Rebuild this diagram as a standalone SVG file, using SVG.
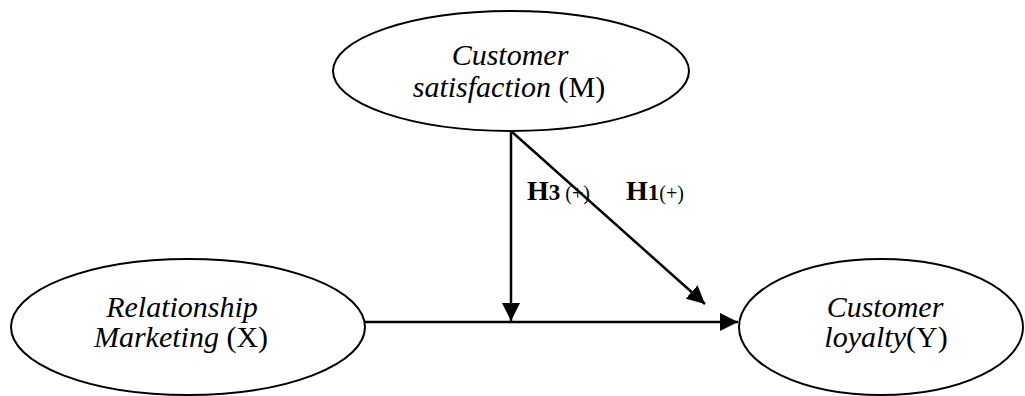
<svg xmlns="http://www.w3.org/2000/svg" width="1025" height="396" viewBox="0 0 1025 396">
<style>
.node{fill:#fff;stroke:#000;stroke-width:2}
.lbl{font-family:"Liberation Serif","Times New Roman",serif;font-size:30px;fill:#000;text-anchor:middle}
.it{font-style:italic}
.edge{stroke:#000;stroke-width:2.5;fill:none}
.h{font-family:"Liberation Serif","Times New Roman",serif;fill:#000;font-weight:bold}
</style>
<defs>
<marker id="ah" markerUnits="userSpaceOnUse" markerWidth="18" markerHeight="18" viewBox="0 0 16 16" refX="16" refY="8" orient="auto">
<path d="M0,0 L16,8 L0,16 Z" fill="#000"/>
</marker>
</defs>
<g id="connectors">
<line class="edge" x1="365" y1="322" x2="738" y2="322" marker-end="url(#ah)"/>
<line class="edge" x1="511" y1="131" x2="511" y2="321" marker-end="url(#ah)"/>
<line class="edge" x1="511" y1="131" x2="705" y2="304" marker-end="url(#ah)"/>
</g>
<g id="node-m">
<ellipse class="node" cx="511" cy="71" rx="178" ry="60"/>
<text class="lbl" x="510" y="65"><tspan class="it">Customer</tspan></text>
<text class="lbl" x="509" y="97"><tspan class="it">satisfaction</tspan> (M)</text>
</g>
<g id="node-x">
<ellipse class="node" cx="188" cy="327" rx="177" ry="68"/>
<text class="lbl" x="182" y="317"><tspan class="it">Relationship</tspan></text>
<text class="lbl" x="181" y="347"><tspan class="it">Marketing</tspan> (X)</text>
</g>
<g id="node-y">
<ellipse class="node" cx="881" cy="327" rx="142" ry="68"/>
<text class="lbl" x="885" y="317"><tspan class="it">Customer</tspan></text>
<text class="lbl" x="886" y="347"><tspan class="it">loyalty</tspan>(Y)</text>
</g>
<g id="labels">
<text class="h" x="527" y="200"><tspan font-size="28">H</tspan><tspan font-size="23">3</tspan><tspan font-size="20" font-weight="normal"> (+)</tspan></text>
<text class="h" x="626" y="200"><tspan font-size="28">H</tspan><tspan font-size="23">1</tspan><tspan font-size="20" font-weight="normal">(+)</tspan></text>
</g>
</svg>
